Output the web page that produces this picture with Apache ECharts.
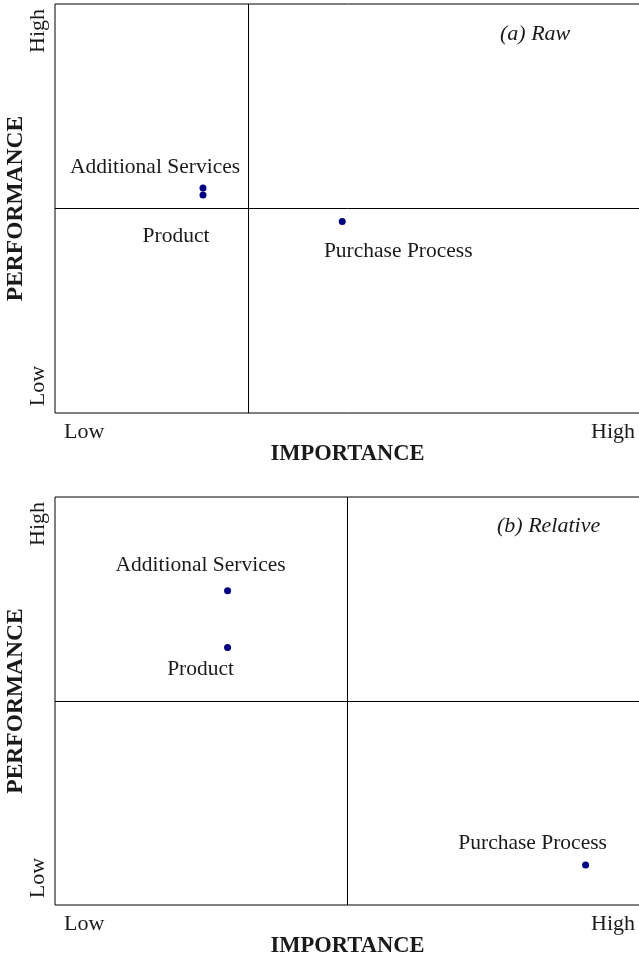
<!DOCTYPE html>
<html>
<head>
<meta charset="utf-8">
<script src="https://cdn.jsdelivr.net/npm/echarts@6/dist/echarts.min.js"></script>
<style>
  html, body { margin: 0; padding: 0; background: #fff; }
  #chart { width: 639px; height: 962px; }
</style>
</head>
<body>
<div id="chart"></div>
<script>
// aspects shown in both panels
var aspects = ['Additional Services', 'Product', 'Purchase Process']

// (a) raw scores, scaled 0..1 on both axes
var rawImportance = [0.253, 0.253, 0.491]
var rawPerformance = [0.550, 0.533, 0.468]
var rawCut = [0.333, 0.5]   // importance, performance split

// (b) relative scores
var relImportance = [0.295, 0.295, 0.907]
var relPerformance = [0.770, 0.631, 0.098]
var relCut = [0.5, 0.5]

var tickLabels = ['Low', 'High']
var xTickAt = [0.05, 0.954]
var yTickAt = [0.066, 0.934]
var panelTitles = ['(a) Raw', '(b) Relative']

var font = 'Liberation Serif'

function points(xs, ys) {
    return aspects.map(function (name, i) {
        return [xs[i], ys[i], name]
    })
}

function xAxis(idx) {
    return {
        gridIndex: idx, type: 'value', min: 0, max: 1,
        name: 'IMPORTANCE', nameLocation: 'middle', nameGap: 30, nameMoveOverlap: false,
        nameTextStyle: {fontFamily: font, fontSize: 22.5, fontWeight: 'bold', color: '#1a1a1a'},
        axisLine: {show: false}, axisTick: {show: false}, splitLine: {show: false},
        axisLabel: {
            customValues: xTickAt, margin: 8,
            fontFamily: font, fontSize: 22, color: '#1a1a1a',
            formatter: function (v) { return v < 0.5 ? tickLabels[0] : tickLabels[1] }
        }
    }
}

function yAxis(idx) {
    return {
        gridIndex: idx, type: 'value', min: 0, max: 1,
        name: 'PERFORMANCE', nameLocation: 'middle', nameGap: 27, nameRotate: 90, nameMoveOverlap: false,
        nameTextStyle: {fontFamily: font, fontSize: 23.5, fontWeight: 'bold', color: '#1a1a1a'},
        axisLine: {show: false}, axisTick: {show: false}, splitLine: {show: false},
        axisLabel: {
            customValues: yTickAt, margin: 6, rotate: 90,
            fontFamily: font, fontSize: 22, color: '#1a1a1a',
            formatter: function (v) { return v < 0.5 ? tickLabels[0] : tickLabels[1] }
        }
    }
}

// label placement around each dot (pixels)
var rawOffsets = [[-48, -21], [-27, 41], [56, 30]]
var relOffsets = [[-27, -25], [-27, 22], [-53, -22]]

function scatter(idx, data, cut, offsets) {
    return {
        type: 'scatter', xAxisIndex: idx, yAxisIndex: idx,
        symbolSize: 7,
        itemStyle: {color: '#000080', opacity: 1},
        data: data.map(function (d, i) {
            return {
                value: d,
                label: {offset: offsets[i]}
            }
        }),
        label: {
            show: true, position: 'inside', align: 'center', verticalAlign: 'middle',
            fontFamily: font, fontSize: 21.5, color: '#1a1a1a',
            formatter: function (p) { return p.value[2] }
        },
        markLine: {
            silent: true, symbol: 'none', animation: false,
            label: {show: false},
            lineStyle: {color: '#000', width: 1, type: 'solid', opacity: 1},
            data: [{xAxis: cut[0]}, {yAxis: cut[1]}]
        }
    }
}

var titleStyle = {fontFamily: font, fontSize: 22, fontStyle: 'italic', fontWeight: 'normal', color: '#1a1a1a'}

var option = {
    animation: false,
    title: [
        {text: panelTitles[0], left: 500, top: 23, padding: 0, textStyle: titleStyle},
        {text: panelTitles[1], left: 497, top: 515, padding: 0, textStyle: titleStyle}
    ],
    grid: [
        {left: 55, right: -1, top: 4, height: 409, show: true, borderColor: '#000', borderWidth: 1,
            containLabel: false, outerBoundsMode: 'none'},
        {left: 55, right: -1, top: 497, height: 408, show: true, borderColor: '#000', borderWidth: 1,
            containLabel: false, outerBoundsMode: 'none'}
    ],
    xAxis: [xAxis(0), xAxis(1)],
    yAxis: [yAxis(0), yAxis(1)],
    series: [
        scatter(0, points(rawImportance, rawPerformance), rawCut, rawOffsets),
        scatter(1, points(relImportance, relPerformance), relCut, relOffsets)
    ]
}

echarts.init(document.getElementById('chart')).setOption(option)
</script>
</body>
</html>
